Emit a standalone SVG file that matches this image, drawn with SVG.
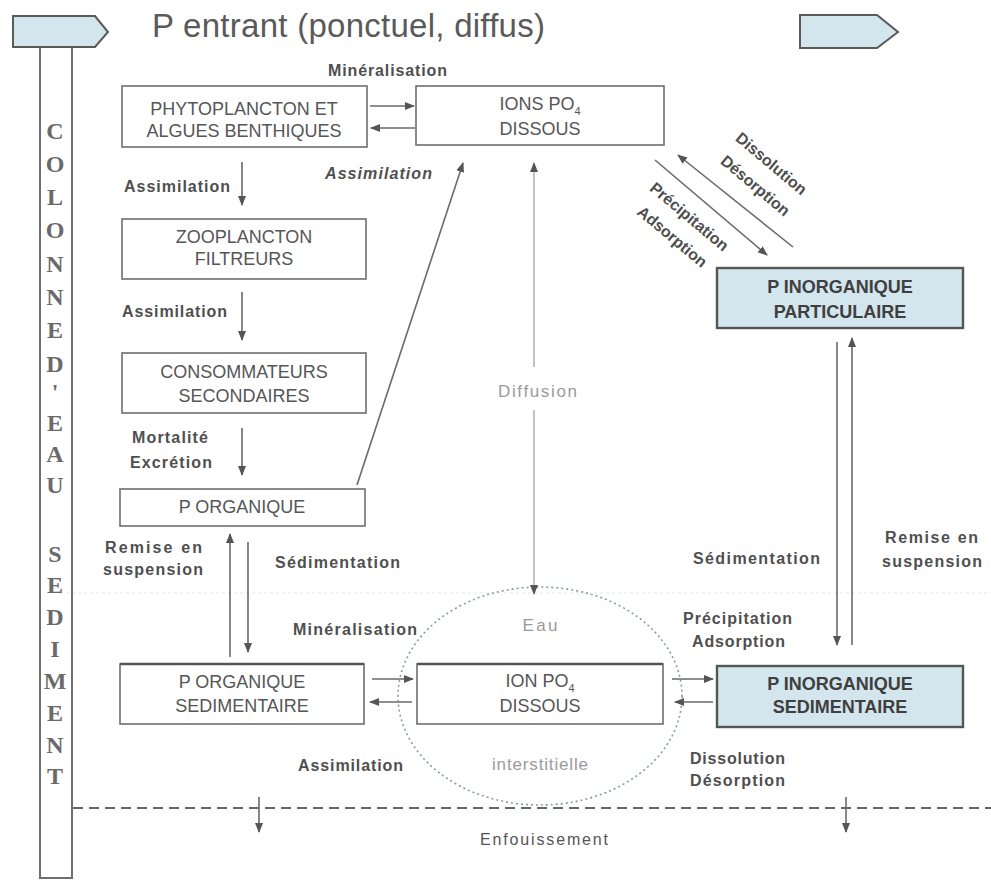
<svg xmlns="http://www.w3.org/2000/svg" width="991" height="880" viewBox="0 0 991 880">
<defs>
<style>
.box{fill:#fff;stroke:#6e6e6e;stroke-width:1.6}
.boxb{fill:#d4e6ed;stroke:#555;stroke-width:2.4}
.bt{font-family:"Liberation Sans",Arial,sans-serif;font-size:18px;fill:#565656;text-anchor:middle}
.btb{font-family:"Liberation Sans",Arial,sans-serif;font-size:18px;fill:#3f3f3f;text-anchor:middle;font-weight:bold}
.lb{font-family:"Liberation Sans",Arial,sans-serif;font-size:16px;font-weight:bold;fill:#4f4f4f}
.lt{font-family:"Liberation Sans",Arial,sans-serif;font-size:17px;fill:#9a9a9a}
.col{font-family:"Liberation Serif","Times New Roman",serif;font-size:24px;font-weight:bold;fill:#6a6a6a;text-anchor:middle}
.ar{fill:none;stroke:#6a6a6a;stroke-width:1.6;marker-end:url(#ah)}
.arl{fill:none;stroke:#a8a8a8;stroke-width:1.4;marker-end:url(#ah)}
</style>
<marker id="ah" viewBox="0 0 10 10" refX="9" refY="5" markerWidth="10" markerHeight="10" markerUnits="userSpaceOnUse" orient="auto">
<path d="M0,1 L10,5 L0,9 z" fill="#555"/>
</marker>
</defs>
<rect width="991" height="880" fill="#fff"/>

<!-- faint line -->
<line x1="60" y1="593" x2="991" y2="593" stroke="#e2e7ea" stroke-width="1.2" stroke-dasharray="3 3"/>

<!-- column -->
<g id="column">
<path d="M40,47 V878 H72 V47" fill="none" stroke="#6e6e6e" stroke-width="2"/>
<path d="M13,16 H95 L108,32 L95,47 H13 Z" fill="#d4e6ed" stroke="#5a5a5a" stroke-width="2"/>
<text class="col" x="55" y="139">C</text>
<text class="col" x="55" y="172">O</text>
<text class="col" x="55" y="205">L</text>
<text class="col" x="55" y="238">O</text>
<text class="col" x="55" y="272">N</text>
<text class="col" x="55" y="305">N</text>
<text class="col" x="55" y="338">E</text>
<text class="col" x="55" y="372">D</text>
<text class="col" x="55" y="400">'</text>
<text class="col" x="55" y="431">E</text>
<text class="col" x="55" y="462">A</text>
<text class="col" x="55" y="493">U</text>
<text class="col" x="55" y="562">S</text>
<text class="col" x="55" y="593">E</text>
<text class="col" x="55" y="625">D</text>
<text class="col" x="55" y="657">I</text>
<text class="col" x="55" y="689">M</text>
<text class="col" x="55" y="721">E</text>
<text class="col" x="55" y="753">N</text>
<text class="col" x="55" y="784">T</text>
</g>

<g id="title">
<text x="152" y="37" font-family="Liberation Sans,Arial,sans-serif" font-size="33" fill="#5a5a5a" textLength="393">P entrant (ponctuel, diffus)</text>
</g>
<g id="out-arrow">
<path d="M800,15 H877 L898,32 L877,48 H800 Z" fill="#d4e6ed" stroke="#5a5a5a" stroke-width="2"/>
</g>

<!-- nodes -->
<g id="phyto">
<rect class="box" x="122" y="86" width="245" height="61"/>
<text class="bt" x="244" y="115">PHYTOPLANCTON ET</text>
<text class="bt" x="244" y="137">ALGUES BENTHIQUES</text>
</g>
<g id="ions-eau">
<rect class="box" x="416" y="86" width="248" height="59"/>
<text class="bt" x="540" y="110">IONS PO<tspan font-size="11" dy="5">4</tspan></text>
<text class="bt" x="540" y="135">DISSOUS</text>
</g>
<g id="zoo">
<rect class="box" x="122" y="219" width="244" height="60"/>
<text class="bt" x="244" y="243">ZOOPLANCTON</text>
<text class="bt" x="244" y="265">FILTREURS</text>
</g>
<g id="conso">
<rect class="box" x="122" y="353" width="244" height="60"/>
<text class="bt" x="244" y="378">CONSOMMATEURS</text>
<text class="bt" x="244" y="402">SECONDAIRES</text>
</g>
<g id="porg">
<rect class="box" x="120" y="489" width="245" height="37"/>
<text class="bt" x="242" y="513">P ORGANIQUE</text>
</g>
<g id="pip">
<rect class="boxb" x="717" y="268" width="246" height="60"/>
<text class="btb" x="840" y="293">P INORGANIQUE</text>
<text class="btb" x="840" y="318">PARTICULAIRE</text>
</g>
<g id="porgsed">
<rect class="box" x="120" y="664" width="244" height="60"/>
<line x1="120" y1="664" x2="364" y2="664" stroke="#555" stroke-width="2.6"/>
<text class="bt" x="242" y="688">P ORGANIQUE</text>
<text class="bt" x="242" y="712">SEDIMENTAIRE</text>
</g>
<g id="ions-sed">
<ellipse cx="540" cy="696" rx="142" ry="109" fill="none" stroke="#8a9a9e" stroke-width="1.6" stroke-dasharray="2 3"/>
<rect class="box" x="417" y="664" width="246" height="60"/>
<line x1="417" y1="664" x2="663" y2="664" stroke="#555" stroke-width="2.6"/>
<text class="bt" x="540" y="687">ION PO<tspan font-size="11" dy="5">4</tspan></text>
<text class="bt" x="540" y="712">DISSOUS</text>
<text class="lt" x="540" y="631" text-anchor="middle" textLength="35">Eau</text>
<text class="lt" x="540" y="770" text-anchor="middle" textLength="96">interstitielle</text>
</g>
<g id="pis">
<rect class="boxb" x="717" y="666" width="246" height="61"/>
<text class="btb" x="840" y="690">P INORGANIQUE</text>
<text class="btb" x="840" y="713">SEDIMENTAIRE</text>
</g>

<!-- burial line -->
<g id="burial">
<line x1="73" y1="808" x2="991" y2="808" stroke="#666" stroke-width="2" stroke-dasharray="10 6"/>
<text x="480" y="845" textLength="128" font-family="Liberation Sans,Arial,sans-serif" font-size="16" fill="#555">Enfouissement</text>
</g>

<!-- connectors -->
<g id="connectors">
<line class="ar" x1="370" y1="106" x2="414" y2="106"/>
<line class="ar" x1="415" y1="128" x2="371" y2="128"/>
<line class="ar" x1="242" y1="162" x2="242" y2="205"/>
<line class="ar" x1="242" y1="292" x2="242" y2="340"/>
<line class="ar" x1="242" y1="428" x2="242" y2="475"/>
<line class="ar" x1="357" y1="485" x2="463" y2="163"/>
<line class="arl" x1="534" y1="367" x2="534" y2="163"/>
<line class="arl" x1="534" y1="410" x2="534" y2="594"/>
<line class="ar" x1="793" y1="247" x2="678" y2="155"/>
<line class="ar" x1="655" y1="160" x2="767" y2="255"/>
<line class="ar" x1="837" y1="342" x2="837" y2="645"/>
<line class="ar" x1="852" y1="645" x2="852" y2="338"/>
<line class="ar" x1="230" y1="657" x2="230" y2="534"/>
<line class="ar" x1="248" y1="542" x2="248" y2="652"/>
<line class="ar" x1="372" y1="679" x2="413" y2="679"/>
<line class="ar" x1="412" y1="702" x2="370" y2="702"/>
<line class="ar" x1="672" y1="679" x2="713" y2="679"/>
<line class="ar" x1="713" y1="702" x2="675" y2="702"/>
<line class="ar" x1="259" y1="797" x2="259" y2="832"/>
<line class="ar" x1="846" y1="797" x2="846" y2="832"/>
</g>

<!-- labels -->
<g id="labels">
<text class="lb" x="328" y="76" textLength="119">Minéralisation</text>
<text class="lb" x="325" y="179" textLength="107" font-style="italic">Assimilation</text>
<text class="lb" x="124" y="192" textLength="106">Assimilation</text>
<text class="lb" x="122" y="317" textLength="105">Assimilation</text>
<text class="lb" x="132" y="443" textLength="76">Mortalité</text>
<text class="lb" x="130" y="468" textLength="82">Excrétion</text>
<text class="lt" x="498" y="397" textLength="79">Diffusion</text>
<text class="lb" x="105" y="553" textLength="97">Remise en</text>
<text class="lb" x="103" y="575" textLength="100">suspension</text>
<text class="lb" x="275" y="568" textLength="125">Sédimentation</text>
<text class="lb" x="293" y="635" textLength="124">Minéralisation</text>
<text class="lb" x="298" y="771" textLength="105">Assimilation</text>
<text class="lb" x="693" y="564" textLength="127">Sédimentation</text>
<text class="lb" x="885" y="543" textLength="93">Remise en</text>
<text class="lb" x="882" y="567" textLength="100">suspension</text>
<text class="lb" x="683" y="624" textLength="109">Précipitation</text>
<text class="lb" x="692" y="647" textLength="93">Adsorption</text>
<text class="lb" x="690" y="764" textLength="95">Dissolution</text>
<text class="lb" x="690" y="786" textLength="95">Désorption</text>
<text class="lb" transform="translate(771,164) rotate(40)" text-anchor="middle" x="0" y="5">Dissolution</text>
<text class="lb" transform="translate(755,186) rotate(40)" text-anchor="middle" x="0" y="5">Désorption</text>
<text class="lb" transform="translate(689,217) rotate(40)" text-anchor="middle" x="0" y="5">Précipitation</text>
<text class="lb" transform="translate(672,237) rotate(40)" text-anchor="middle" x="0" y="5">Adsorption</text>
</g>
</svg>
